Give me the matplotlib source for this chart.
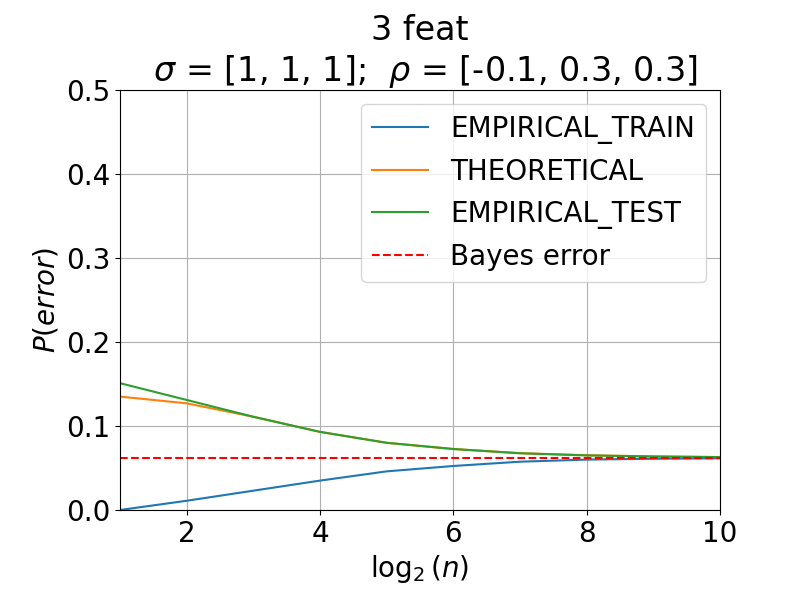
import matplotlib
matplotlib.use('Agg')
import matplotlib.pyplot as plt

log2_n = [1, 2, 3, 4, 5, 6, 7, 8, 9, 10]
emp_train = [0.0, 0.011, 0.023, 0.035, 0.046, 0.0524, 0.0575, 0.060, 0.061, 0.0615]
theoretical = [0.135, 0.127, 0.111, 0.093, 0.080, 0.0726, 0.0677, 0.0652, 0.0638, 0.063]
emp_test = [0.151, 0.131, 0.111, 0.093, 0.080, 0.0726, 0.0675, 0.065, 0.0637, 0.063]
bayes_error = 0.0623

plt.rcParams['font.size'] = 20

fig, ax = plt.subplots(figsize=(8, 6), dpi=100)
fig.subplots_adjust(left=0.15, right=0.9, bottom=0.15, top=0.85)

ax.plot(log2_n, emp_train, label='EMPIRICAL_TRAIN')
ax.plot(log2_n, theoretical, label='THEORETICAL')
ax.plot(log2_n, emp_test, label='EMPIRICAL_TEST')
ax.axhline(bayes_error, color='red', linestyle='--', label='Bayes error')

ax.set_xlim(1, 10)
ax.set_ylim(0, 0.5)
ax.grid(True)
ax.set_xlabel(r'$\log_2(n)$')
ax.set_ylabel(r'$P(error)$')
ax.set_title('3 feat\n ' + r'$\sigma$ = [1, 1, 1];  $\rho$ = [-0.1, 0.3, 0.3]')
ax.legend(loc='upper right')

plt.savefig('out.png')
